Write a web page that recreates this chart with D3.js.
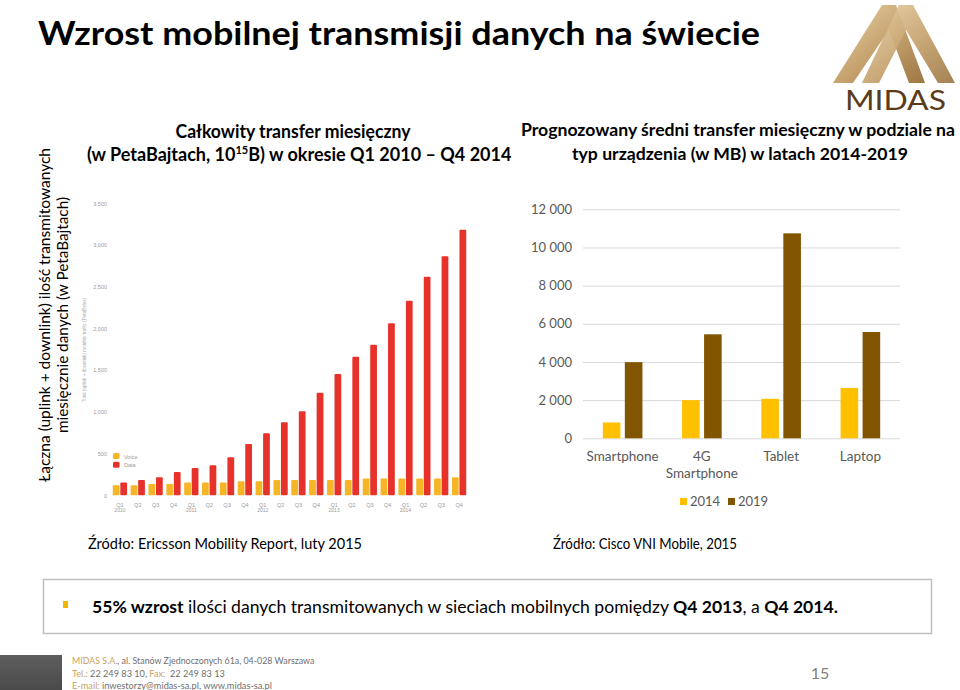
<!DOCTYPE html>
<html><head><meta charset="utf-8">
<script src="https://cdn.jsdelivr.net/npm/d3@7"></script>
<style>body{margin:0;background:#fff} svg{display:block}</style>
</head><body>
<svg id="c" width="960" height="690"></svg>
<script>
// ---------- data ----------
const quarters = ["Q1","Q2","Q3","Q4","Q1","Q2","Q3","Q4","Q1","Q2","Q3","Q4","Q1","Q2","Q3","Q4","Q1","Q2","Q3","Q4"];
const quarterYears = ["2010","","","","2011","","","","2012","","","","2013","","","","2014","","",""];
const voiceValues = [120,120,136,136,152,152,152,168,168,184,184,184,184,184,200,200,200,200,200,216];
const dataValues = [152,184,216,280,328,360,456,615,743,875,1007,1230,1454,1662,1806,2061,2333,2621,2864,3184];
const leftTicks = [0,500,1000,1500,2000,2500,3000,3500];
const leftSeries = ["Voice","Data"];

const devices = ["Smartphone","4G Smartphone","Tablet","Laptop"];
const deviceLabelLines = [["Smartphone"],["4G","Smartphone"],["Tablet"],["Laptop"]];
const values2014 = [830,2000,2070,2640];
const values2019 = [3990,5450,10740,5570];
const rightSeries = ["2014","2019"];
const rightTicks = [0,2000,4000,6000,8000,10000,12000];
const rightTickLabels = ["0","2 000","4 000","6 000","8 000","10 000","12 000"];

// ---------- setup ----------
const svg = d3.select("#c");
const F = "Lato, 'Open Sans', sans-serif";

function txt(x, y, s, o = {}) {
  const t = svg.append("text").attr("x", x).attr("y", y).text(s)
    .attr("font-family", o.ff || F).attr("font-size", o.fs || 14)
    .attr("font-weight", o.fw || "normal").attr("fill", o.fill || "#000")
    .attr("text-anchor", o.anchor || "start");
  if (o.len) t.attr("textLength", o.len).attr("lengthAdjust", "spacingAndGlyphs");
  return t;
}
// a line made of separately placed pieces; font size chosen so the line spans the given width
function pieces(x, y, parts, total, fs) {
  const nodes = parts.map(p => svg.append("text").attr("y", y).attr("font-family", F).attr("font-size", fs)
    .attr("font-weight", p.b ? "bold" : "normal").attr("fill", p.c || "#000").attr("xml:space", "preserve").text(p.s));
  let widths = nodes.map(n => n.node().getComputedTextLength());
  const f2 = fs * total / d3.sum(widths);
  nodes.forEach(n => n.attr("font-size", f2));
  widths = nodes.map(n => n.node().getComputedTextLength());
  let cx = x;
  nodes.forEach((n, i) => { n.attr("x", cx); cx += widths[i]; });
}

// ---------- main title ----------
txt(38, 45, "Wzrost mobilnej transmisji danych na świecie", {fs: 33, fw: "bold", len: 722});

// ---------- logo ----------
const defs = svg.append("defs");
const lg = defs.append("linearGradient").attr("id", "gold").attr("x1", "0").attr("y1", "0").attr("x2", "1").attr("y2", "1");
lg.append("stop").attr("offset", "0%").attr("stop-color", "#e9d3a8");
lg.append("stop").attr("offset", "55%").attr("stop-color", "#c4a06c");
lg.append("stop").attr("offset", "100%").attr("stop-color", "#9c7643");
svg.append("path").attr("fill", "url(#gold)").attr("fill-rule", "evenodd")
  .attr("d", "M833,83 L882,5 L896,5 L925,83 L909,83 L889,30 L853,83 Z");
svg.append("path").attr("fill", "url(#gold)").attr("fill-rule", "evenodd").attr("opacity", 0.92)
  .attr("d", "M862,83 L899,5 L913,5 L955,83 L938,83 L906,30 L879,83 Z");
txt(845, 110, "MIDAS", {fs: 26, fill: "#5a3b1c", len: 101});

// ---------- left rotated axis description ----------
const rot = svg.append("g").attr("transform", "translate(0,315) rotate(-90)");
rot.append("text").attr("x", 0).attr("y", 50).attr("text-anchor", "middle")
  .attr("font-family", F).attr("font-size", 16).attr("fill", "#000")
  .attr("textLength", 334).attr("lengthAdjust", "spacingAndGlyphs")
  .text("Łączna (uplink + downlink) ilość transmitowanych");
rot.append("text").attr("x", 0).attr("y", 68).attr("text-anchor", "middle")
  .attr("font-family", F).attr("font-size", 16).attr("fill", "#000")
  .attr("textLength", 236).attr("lengthAdjust", "spacingAndGlyphs")
  .text("miesięcznie danych (w PetaBajtach)");

// ---------- left chart titles ----------
txt(293, 138, "Całkowity transfer miesięczny", {fs: 18, fw: "bold", anchor: "middle", len: 235});
const t2 = svg.append("text").attr("x", 87).attr("y", 161).attr("font-family", F)
  .attr("font-size", 18).attr("font-weight", "bold").attr("fill", "#000");
t2.append("tspan").text("(w PetaBajtach, 10");
t2.append("tspan").text("15").attr("font-size", 11).attr("dy", -7);
t2.append("tspan").text("B) w okresie Q1 2010 – Q4 2014").attr("dy", 7);

// ---------- left chart ----------
const xL = d3.scaleBand().domain(d3.range(quarters.length)).range([111, 468]).paddingInner(0.2).paddingOuter(0.1);
const xLi = d3.scaleBand().domain(leftSeries).range([0, xL.bandwidth()]).paddingInner(0.1);
const yL = d3.scaleLinear().domain([0, 3500]).range([495.3, 203.3]);
const leftColors = {Voice: "#f6b526", Data: "#e6322a"};

const gL = svg.append("g");
const axL = d3.axisLeft(yL).tickValues(leftTicks).tickSize(0).tickPadding(0).tickFormat(d3.format(","));
const ga = gL.append("g").attr("transform", "translate(107,0)").call(axL);
ga.select(".domain").remove();
ga.selectAll("text").attr("font-family", "'Liberation Sans', Arial, sans-serif").attr("font-size", 5.5).attr("fill", "#9a9a9a");

gL.append("text").attr("transform", "translate(86,350) rotate(-90)").attr("text-anchor", "middle")
  .attr("font-family", "'Liberation Sans', Arial, sans-serif").attr("font-size", 4.6).attr("fill", "#a8a8a8")
  .text("Total (uplink + downlink) monthly traffic (PetaBytes)");

const groups = gL.selectAll("g.q").data(quarters.map((q, i) => ({i, Voice: voiceValues[i], Data: dataValues[i]})))
  .enter().append("g").attr("transform", d => `translate(${xL(d.i)},0)`);
groups.selectAll("rect").data(d => leftSeries.map(k => ({k, v: d[k]}))).enter().append("rect")
  .attr("x", d => xLi(d.k)).attr("width", xLi.bandwidth())
  .attr("y", d => yL(d.v)).attr("height", d => yL(0) - yL(d.v))
  .attr("rx", 1).attr("fill", d => leftColors[d.k]);

const xa = gL.append("g").attr("transform", "translate(0,495.3)")
  .call(d3.axisBottom(xL).tickSize(0).tickPadding(8).tickFormat(i => quarters[i]));
xa.select(".domain").remove();
xa.selectAll("text").attr("font-family", "'Liberation Sans', Arial, sans-serif").attr("font-size", 5.5).attr("fill", "#9a9a9a");
xa.selectAll(".tick").append("text").attr("y", 17).attr("text-anchor", "middle")
  .attr("font-family", "'Liberation Sans', Arial, sans-serif").attr("font-size", 5).attr("fill", "#9a9a9a")
  .text(i => quarterYears[i]);

// left legend
leftSeries.forEach((k, j) => {
  gL.append("rect").attr("x", 113).attr("y", 453 + j * 8.7).attr("width", 6.5).attr("height", 6).attr("rx", 1.5).attr("fill", leftColors[k]);
  gL.append("text").attr("x", 124).attr("y", 458.5 + j * 8.7).attr("font-family", "'Liberation Sans', Arial, sans-serif")
    .attr("font-size", 5.5).attr("fill", "#9a9a9a").text(k);
});

// ---------- right chart titles ----------
txt(738, 136, "Prognozowany średni transfer miesięczny w podziale na", {fs: 16.5, fw: "bold", anchor: "middle", len: 434});
txt(740, 160, "typ urządzenia (w MB) w latach 2014-2019", {fs: 17.5, fw: "bold", anchor: "middle", len: 336});

// ---------- right chart ----------
const xR = d3.scaleBand().domain(devices).range([583, 900]).paddingInner(0.5).paddingOuter(0.25);
const xRi = d3.scaleBand().domain(rightSeries).range([0, xR.bandwidth()]).paddingInner(0.2);
const yR = d3.scaleLinear().domain([0, 12000]).range([438.3, 209.3]);
const rightColors = {"2014": "#ffc000", "2019": "#825500"};

const gR = svg.append("g");
const gy = gR.append("g").attr("transform", "translate(583,0)")
  .call(d3.axisLeft(yR).tickValues(rightTicks).tickSize(-317).tickPadding(11).tickFormat((d, i) => rightTickLabels[i]));
gy.select(".domain").remove();
gy.selectAll("line").attr("stroke", "#d9d9d9").attr("stroke-width", 1);
gy.selectAll("text").attr("font-family", F).attr("font-size", 13).attr("fill", "#595959");

const rg = gR.selectAll("g.d").data(devices.map((d, i) => ({d, "2014": values2014[i], "2019": values2019[i]})))
  .enter().append("g").attr("transform", d => `translate(${xR(d.d)},0)`);
rg.selectAll("rect").data(d => rightSeries.map(k => ({k, v: d[k]}))).enter().append("rect")
  .attr("x", d => xRi(d.k)).attr("width", xRi.bandwidth())
  .attr("y", d => yR(d.v)).attr("height", d => yR(0) - yR(d.v))
  .attr("fill", d => rightColors[d.k]);

devices.forEach((d, i) => {
  deviceLabelLines[i].forEach((line, j) => {
    gR.append("text").attr("x", xR(d) + xR.bandwidth() / 2).attr("y", 461 + j * 17)
      .attr("text-anchor", "middle").attr("font-family", F).attr("font-size", 13.5).attr("fill", "#595959").text(line);
  });
});

// right legend
rightSeries.forEach((k, j) => {
  const x0 = 680 + j * 48;
  gR.append("rect").attr("x", x0).attr("y", 498).attr("width", 7).attr("height", 7).attr("fill", rightColors[k]);
  gR.append("text").attr("x", x0 + 10).attr("y", 506).attr("font-family", F).attr("font-size", 13).attr("fill", "#595959").text(k);
});

// ---------- sources ----------
txt(88, 549, "Źródło: Ericsson Mobility Report, luty 2015", {fs: 14.5, len: 274});
txt(553, 549, "Źródło:  Cisco VNI Mobile, 2015", {fs: 14.5, len: 184});

// ---------- callout box ----------
svg.append("rect").attr("x", 43.5).attr("y", 579.5).attr("width", 888).attr("height", 54)
  .attr("fill", "#fff").attr("stroke", "#bfbfbf").attr("stroke-width", 1.5);
svg.append("rect").attr("x", 63).attr("y", 601).attr("width", 5).attr("height", 7).attr("fill", "#f2b600");
pieces(92, 613, [
  {s: "55% wzrost", b: true},
  {s: " ilości danych transmitowanych w sieciach mobilnych pomiędzy "},
  {s: "Q4 2013", b: true},
  {s: ", a "},
  {s: "Q4 2014.", b: true}
], 746, 18);

// ---------- footer ----------
const fg = defs.append("linearGradient").attr("id", "dark").attr("x1", "0").attr("y1", "0").attr("x2", "0").attr("y2", "1");
fg.append("stop").attr("offset", "0%").attr("stop-color", "#5e5e5e");
fg.append("stop").attr("offset", "100%").attr("stop-color", "#4a4a4a");
svg.append("rect").attr("x", 0).attr("y", 655).attr("width", 62).attr("height", 35).attr("fill", "url(#dark)");
const gold = "#c9a25c", grey = "#6f6f6f";
pieces(72, 664, [{s: "MIDAS S.A.", c: gold}, {s: ", al. Stanów Zjednoczonych 61a, 04-028 Warszawa", c: grey}], 243, 9.5);
pieces(72, 677, [{s: "Tel.:", c: gold}, {s: " 22 249 83 10, ", c: grey}, {s: "Fax:", c: gold}, {s: "  22 249 83 13", c: grey}], 153, 9.5);
pieces(72, 689, [{s: "E-mail:", c: gold}, {s: " inwestorzy@midas-sa.pl, www.midas-sa.pl", c: grey}], 200, 9.5);
txt(820, 679, "15", {fs: 16, fill: "#7f7f7f", anchor: "middle"});
</script>
</body></html>
